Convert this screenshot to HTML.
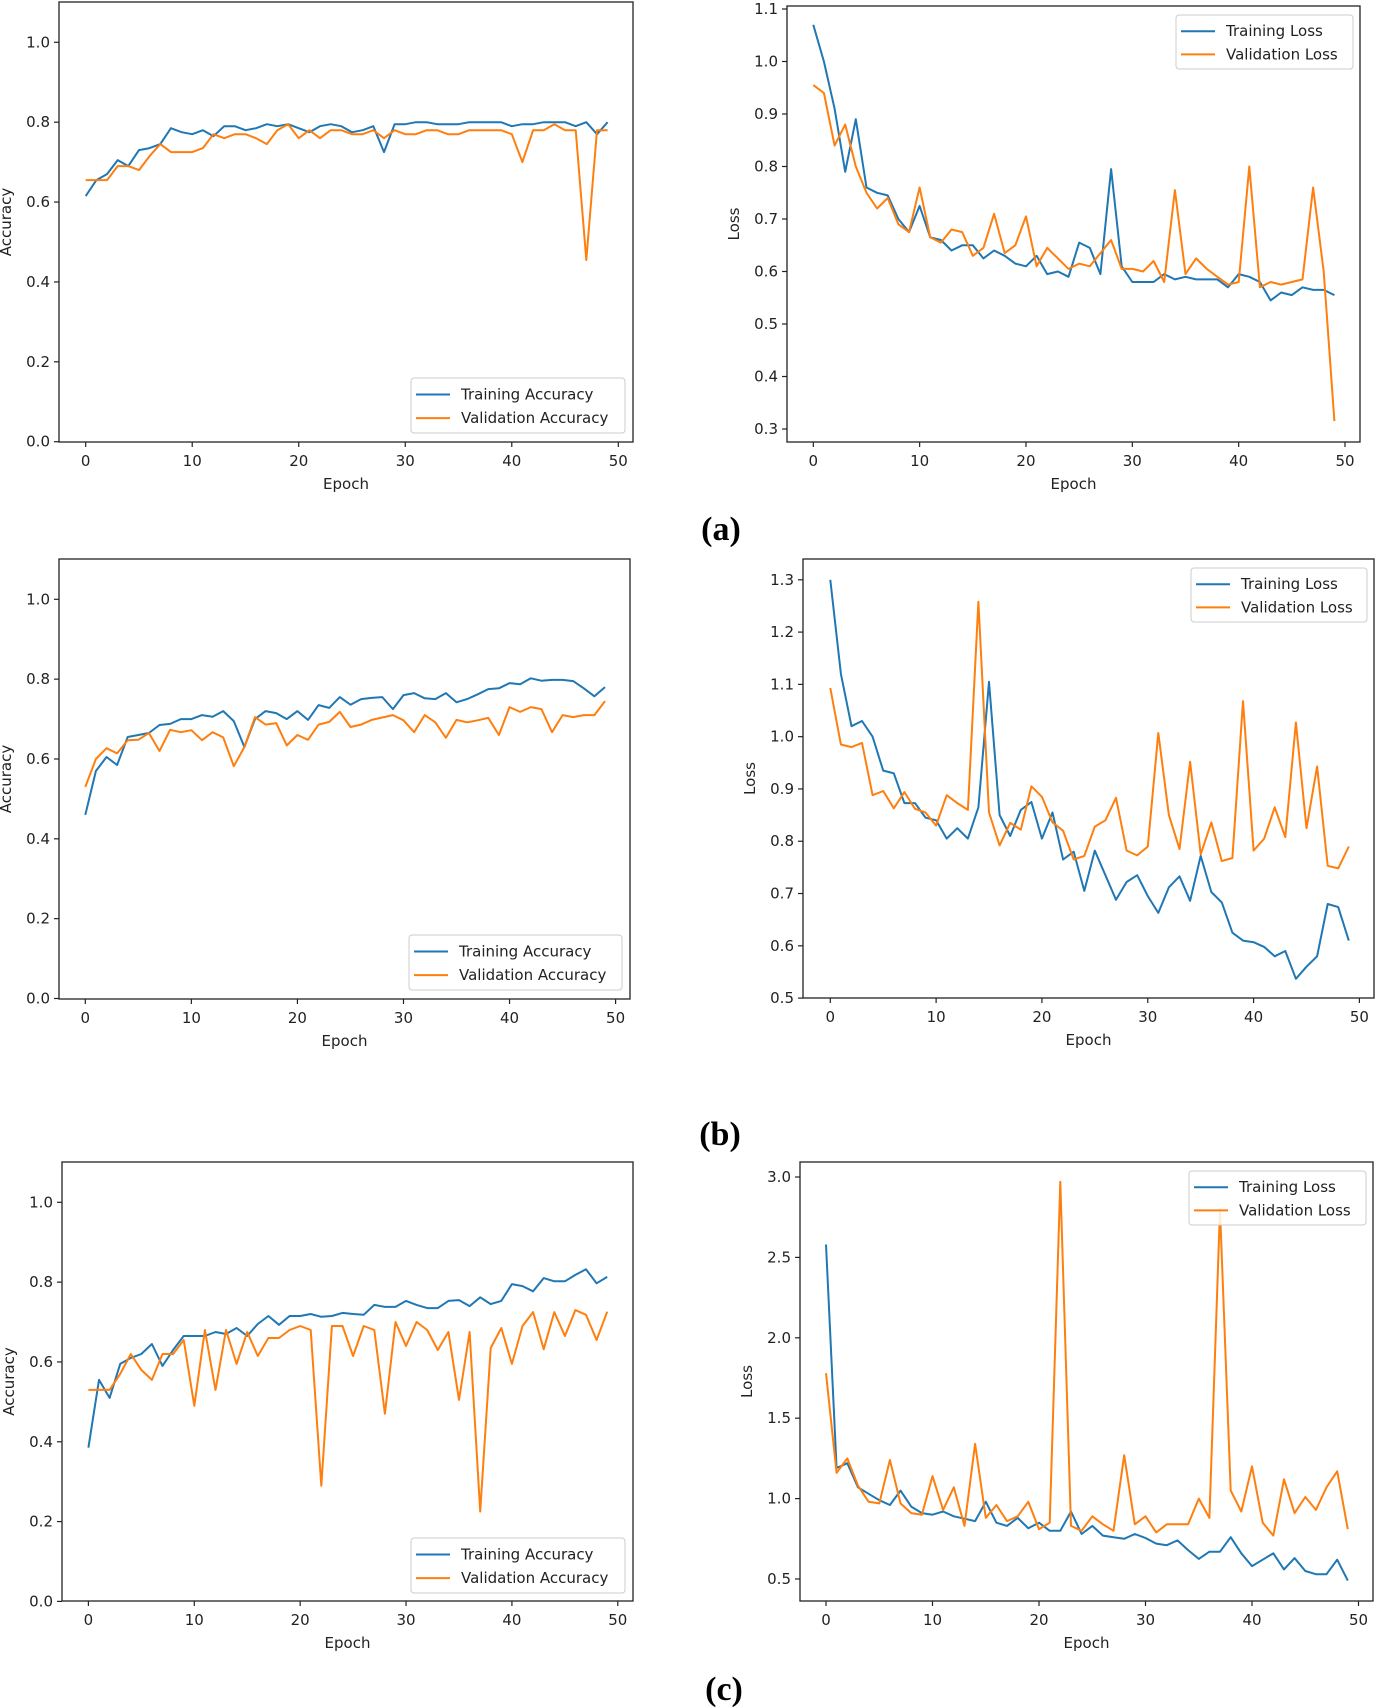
<!DOCTYPE html>
<html><head><meta charset="utf-8"><style>
html,body{margin:0;padding:0;background:#fff;}
svg{display:block;}
text{font-family:"DejaVu Sans","Liberation Sans",sans-serif;fill:#222;}
.lbl{font-family:"Liberation Serif",serif;font-weight:bold;font-size:34px;fill:#000;}
</style></head><body>
<svg id="fig" width="1377" height="1708" viewBox="0 0 1377 1708" xmlns="http://www.w3.org/2000/svg">
<text class="lbl" x="721" y="540" text-anchor="middle">(a)</text>
<text class="lbl" x="720" y="1145" text-anchor="middle">(b)</text>
<text class="lbl" x="724" y="1700" text-anchor="middle">(c)</text>
</svg>
<script>
const epochTicks=[0,10,20,30,40,50];
const accTicks=[0.0,0.2,0.4,0.6,0.8,1.0];
const lossTicksA=[0.3,0.4,0.5,0.6,0.7,0.8,0.9,1.0,1.1];
const lossTicksB=[0.5,0.6,0.7,0.8,0.9,1.0,1.1,1.2,1.3];
const lossTicksC=[0.5,1.0,1.5,2.0,2.5,3.0];

const aTrainAcc=[0.615,0.655,0.67,0.705,0.69,0.73,0.735,0.745,0.785,0.775,0.77,0.78,0.765,0.79,0.79,0.78,0.785,0.795,0.79,0.795,0.785,0.775,0.79,0.795,0.79,0.775,0.78,0.79,0.725,0.795,0.795,0.8,0.8,0.795,0.795,0.795,0.8,0.8,0.8,0.8,0.79,0.795,0.795,0.8,0.8,0.8,0.79,0.8,0.77,0.8];
const aValAcc=[0.655,0.655,0.655,0.69,0.69,0.68,0.715,0.745,0.725,0.725,0.725,0.735,0.77,0.76,0.77,0.77,0.76,0.745,0.78,0.795,0.76,0.78,0.76,0.78,0.78,0.77,0.77,0.78,0.76,0.78,0.77,0.77,0.78,0.78,0.77,0.77,0.78,0.78,0.78,0.78,0.77,0.70,0.78,0.78,0.795,0.78,0.78,0.455,0.78,0.78];
const aTrainLoss=[1.07,1.0,0.91,0.79,0.89,0.76,0.75,0.745,0.70,0.675,0.725,0.665,0.66,0.64,0.65,0.65,0.625,0.64,0.63,0.615,0.61,0.63,0.595,0.6,0.59,0.655,0.645,0.595,0.795,0.61,0.58,0.58,0.58,0.595,0.585,0.59,0.585,0.585,0.585,0.57,0.595,0.59,0.58,0.545,0.56,0.555,0.57,0.565,0.565,0.555];
const aValLoss=[0.955,0.94,0.84,0.88,0.80,0.75,0.72,0.74,0.69,0.675,0.76,0.665,0.655,0.68,0.675,0.63,0.645,0.71,0.635,0.65,0.705,0.61,0.645,0.625,0.605,0.615,0.61,0.635,0.66,0.605,0.605,0.6,0.62,0.58,0.755,0.595,0.625,0.605,0.59,0.575,0.58,0.80,0.57,0.58,0.575,0.58,0.585,0.76,0.6,0.315];

const bTrainAcc=[0.46,0.57,0.605,0.585,0.655,0.66,0.665,0.685,0.688,0.70,0.70,0.71,0.706,0.72,0.695,0.63,0.70,0.72,0.715,0.70,0.72,0.698,0.735,0.728,0.755,0.736,0.75,0.753,0.755,0.725,0.76,0.765,0.752,0.75,0.765,0.742,0.75,0.762,0.775,0.777,0.79,0.787,0.802,0.796,0.798,0.798,0.795,0.777,0.757,0.78];
const bValAcc=[0.53,0.6,0.627,0.614,0.647,0.648,0.665,0.62,0.673,0.667,0.672,0.647,0.667,0.654,0.582,0.63,0.705,0.686,0.69,0.634,0.66,0.648,0.686,0.693,0.718,0.68,0.686,0.698,0.704,0.71,0.697,0.667,0.71,0.692,0.653,0.698,0.692,0.697,0.703,0.66,0.73,0.718,0.73,0.725,0.667,0.71,0.705,0.71,0.71,0.745];
const bTrainLoss=[1.30,1.12,1.02,1.03,1.0,0.935,0.93,0.873,0.873,0.845,0.84,0.805,0.825,0.805,0.865,1.105,0.85,0.81,0.86,0.875,0.805,0.855,0.765,0.78,0.705,0.782,0.735,0.688,0.722,0.735,0.695,0.663,0.712,0.733,0.686,0.772,0.703,0.683,0.625,0.61,0.607,0.598,0.58,0.59,0.537,0.56,0.58,0.68,0.674,0.61];
const bValLoss=[1.093,0.985,0.98,0.988,0.888,0.896,0.863,0.894,0.862,0.855,0.83,0.888,0.873,0.86,1.258,0.855,0.792,0.835,0.822,0.905,0.885,0.836,0.82,0.765,0.772,0.828,0.84,0.883,0.782,0.773,0.79,1.007,0.85,0.785,0.952,0.775,0.836,0.762,0.768,1.068,0.782,0.805,0.865,0.808,1.027,0.825,0.943,0.753,0.748,0.79];

const cTrainAcc=[0.385,0.555,0.51,0.595,0.61,0.62,0.645,0.59,0.63,0.665,0.665,0.665,0.675,0.67,0.685,0.665,0.695,0.715,0.693,0.715,0.715,0.72,0.713,0.715,0.723,0.72,0.718,0.743,0.738,0.738,0.753,0.743,0.735,0.735,0.753,0.755,0.74,0.762,0.745,0.753,0.795,0.79,0.777,0.81,0.802,0.802,0.818,0.832,0.797,0.813];
const cValAcc=[0.53,0.53,0.53,0.57,0.62,0.58,0.555,0.62,0.62,0.655,0.49,0.68,0.53,0.68,0.595,0.675,0.615,0.66,0.66,0.68,0.69,0.68,0.29,0.69,0.69,0.615,0.69,0.68,0.47,0.70,0.64,0.70,0.68,0.63,0.675,0.505,0.675,0.225,0.635,0.685,0.595,0.69,0.725,0.632,0.725,0.665,0.73,0.718,0.655,0.726];
const cTrainLoss=[2.58,1.19,1.22,1.07,1.03,0.99,0.96,1.05,0.95,0.91,0.9,0.92,0.89,0.875,0.86,0.98,0.85,0.83,0.88,0.815,0.85,0.80,0.80,0.92,0.78,0.83,0.77,0.76,0.75,0.78,0.755,0.72,0.71,0.74,0.68,0.625,0.67,0.67,0.76,0.66,0.58,0.62,0.66,0.56,0.63,0.55,0.53,0.53,0.62,0.49];
const cValLoss=[1.78,1.16,1.25,1.08,0.98,0.97,1.24,0.97,0.91,0.90,1.14,0.93,1.07,0.83,1.34,0.88,0.96,0.86,0.89,0.98,0.81,0.85,2.97,0.83,0.80,0.89,0.84,0.80,1.27,0.84,0.89,0.79,0.84,0.84,0.84,1.0,0.88,2.8,1.05,0.92,1.2,0.85,0.77,1.12,0.91,1.01,0.93,1.07,1.17,0.81];

const NS='http://www.w3.org/2000/svg';
const svg=document.getElementById('fig');
function mk(tag,attrs,parent){const e=document.createElementNS(NS,tag);for(const k in attrs)e.setAttribute(k,attrs[k]);(parent||svg).appendChild(e);return e;}

// box: axes rect; xr/yr: two reference ticks [value,pixel]
function panel(id,box,xr,yr,yTicks,yTickFmt,ylab,s1,s2,n1,n2,leg){
  const g=mk('g',{});
  
  
  const X=v=>xr[0][1]+(v-xr[0][0])*(xr[1][1]-xr[0][1])/(xr[1][0]-xr[0][0]);
  const Y=v=>yr[0][1]+(v-yr[0][0])*(yr[1][1]-yr[0][1])/(yr[1][0]-yr[0][0]);
  const bottom=box.y+box.h;
  const ax=mk('rect',{x:box.x,y:box.y,width:box.w,height:box.h,fill:'none',stroke:'#222','stroke-width':1.3},g);
  
  
  epochTicks.forEach(t=>{
    const x=X(t);
    mk('line',{x1:x,x2:x,y1:bottom,y2:bottom+5,stroke:'#222','stroke-width':1.2},g);
    const tx=mk('text',{x:x,y:bottom+24,'text-anchor':'middle','font-size':15},g);
    tx.textContent=t;
    
    
  });
  yTicks.forEach(t=>{
    const y=Y(t);
    mk('line',{x1:box.x-5,x2:box.x,y1:y,y2:y,stroke:'#222','stroke-width':1.2},g);
    const tx=mk('text',{x:box.x-9,y:y+5,'text-anchor':'end','font-size':15},g);
    tx.textContent=t.toFixed(1);
    
    
  });
  const xl=mk('text',{x:box.x+box.w/2,y:bottom+47,'text-anchor':'middle','font-size':15},g);
  xl.textContent='Epoch';
  
  
  const cy=box.y+box.h/2;
  const yl=mk('text',{x:box.x-48,y:cy,'text-anchor':'middle','font-size':15,transform:`rotate(-90 ${box.x-48} ${cy})`},g);
  yl.textContent=ylab;
  
  
  const line=(arr,col,name)=>{
    const p=mk('polyline',{points:arr.map((v,i)=>X(i).toFixed(1)+','+Y(v).toFixed(1)).join(' '),fill:'none',stroke:col,'stroke-width':2,'stroke-linejoin':'round'},g);
    
    
  };
  line(s1,'#1f77b4','training-series');
  line(s2,'#ff7f0e','validation-series');
  const lg=mk('g',{},g);
  
  
  mk('rect',{x:leg.x,y:leg.y,width:leg.w,height:leg.h,rx:3,fill:'#fff','fill-opacity':0.85,stroke:'#ccc','stroke-width':1},lg);
  [[n1,'#1f77b4'],[n2,'#ff7f0e']].forEach((e,i)=>{
    const yy=leg.y+leg.h*(0.3+0.43*i);
    mk('line',{x1:leg.x+5,x2:leg.x+39,y1:yy,y2:yy,stroke:e[1],'stroke-width':2},lg);
    const t=mk('text',{x:leg.x+50,y:yy+5,'font-size':15},lg);
    t.textContent=e[0];
    
    
  });
}

panel('chart-a-accuracy',{x:59,y:2,w:574,h:440},[[0,85.7],[50,618.3]],[[0,441.7],[1,42.3]],accTicks,1,'Accuracy',aTrainAcc,aValAcc,'Training Accuracy','Validation Accuracy',{x:411,y:378,w:214,h:55});
panel('chart-a-loss',{x:787,y:6,w:573,h:436},[[0,813.3],[50,1345]],[[0.3,429],[1.1,9]],lossTicksA,1,'Loss',aTrainLoss,aValLoss,'Training Loss','Validation Loss',{x:1176,y:15,w:177,h:54});
panel('chart-b-accuracy',{x:59,y:559,w:571,h:440},[[0,85.3],[50,615.6]],[[0,998.5],[1,599.3]],accTicks,1,'Accuracy',bTrainAcc,bValAcc,'Training Accuracy','Validation Accuracy',{x:409,y:935,w:213,h:55});
panel('chart-b-loss',{x:803,y:559,w:571,h:439},[[0,830.3],[50,1359.4]],[[0.5,998.1],[1.3,579.8]],lossTicksB,1,'Loss',bTrainLoss,bValLoss,'Training Loss','Validation Loss',{x:1191,y:568,w:176,h:54});
panel('chart-c-accuracy',{x:62,y:1162,w:571,h:439},[[0,88.4],[50,617.8]],[[0,1601.4],[1,1202.3]],accTicks,1,'Accuracy',cTrainAcc,cValAcc,'Training Accuracy','Validation Accuracy',{x:411,y:1538,w:214,h:55});
panel('chart-c-loss',{x:800,y:1162,w:573,h:439},[[0,826],[50,1358.5]],[[0.5,1579],[3.0,1177]],lossTicksC,1,'Loss',cTrainLoss,cValLoss,'Training Loss','Validation Loss',{x:1189,y:1171,w:177,h:54});
</script>
</body></html>
